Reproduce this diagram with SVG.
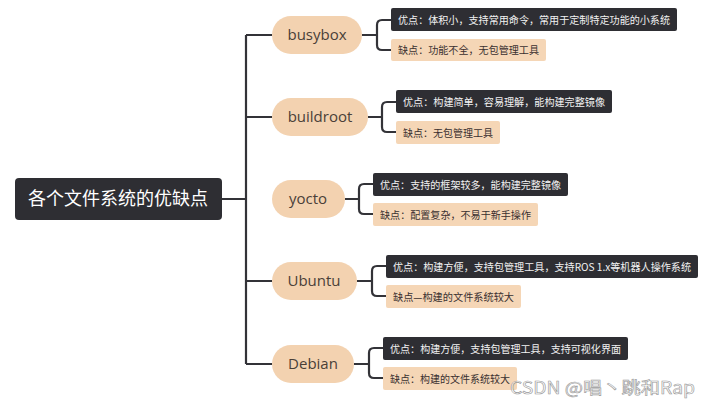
<svg xmlns="http://www.w3.org/2000/svg" width="711" height="407" viewBox="0 0 711 407">
<style>
.ln{fill:none;stroke:#333338;stroke-width:2.2}
.pill{fill:#f3d2b0}
.pt{font-family:"Open Sans","Noto Sans",sans-serif;font-size:15px;fill:#4a3f38;text-anchor:middle}
.dk{fill:#2e2e33}
.lt{fill:#f5d6b6}
.dt{font-family:"Noto Sans CJK SC",sans-serif;font-size:10.5px;fill:#f2f2f2}
.ltt{font-family:"Noto Sans CJK SC",sans-serif;font-size:10.5px;fill:#3a3030}
</style>
<rect width="711" height="407" fill="#fff"/>
<g id="connectors">
<path class="ln" d="M222 199H246M246 35V364 M246 35H272M246 117H272M246 281H272M246 364H272"/>
<path class="ln" d="M362 35H377M391 20H382Q377 20 377 25V45Q377 50 382 50H391"/>
<path class="ln" d="M368 117H382M396 102H387Q382 102 382 107V127Q382 132 387 132H396"/>
<path class="ln" d="M345 199H359M373 184H364Q359 184 359 189V209Q359 214 364 214H373"/>
<path class="ln" d="M357 281H372M386 266H377Q372 266 372 271V291Q372 296 377 296H386"/>
<path class="ln" d="M354 364H369M383 348H374Q369 348 369 353V373Q369 378 374 378H383"/>
</g>
<g id="root"><rect x="15" y="178" width="207" height="42" rx="4" fill="#2e2e33"/><text x="118" y="205" text-anchor="middle" font-family="Noto Sans CJK SC,sans-serif" font-size="18" fill="#fff">各个文件系统的优缺点</text></g>
<g id="busybox"><rect class="pill" x="272" y="16" width="90" height="38" rx="19"/><text class="pt" x="317" y="40">busybox</text>
<rect class="dk" x="391" y="8" width="286" height="23" rx="2"/><text class="dt" x="398" y="24" textLength="272" lengthAdjust="spacingAndGlyphs">优点：体积小，支持常用命令，常用于定制特定功能的小系统</text>
<rect class="lt" x="391" y="39" width="155" height="22" rx="2"/><text class="ltt" x="398" y="54" textLength="141" lengthAdjust="spacingAndGlyphs">缺点：功能不全，无包管理工具</text></g>
<g id="buildroot"><rect class="pill" x="272" y="98" width="96" height="38" rx="19"/><text class="pt" x="320" y="122">buildroot</text>
<rect class="dk" x="396" y="90" width="216" height="23" rx="2"/><text class="dt" x="403" y="106" textLength="202" lengthAdjust="spacingAndGlyphs">优点：构建简单，容易理解，能构建完整镜像</text>
<rect class="lt" x="396" y="121" width="104" height="23" rx="2"/><text class="ltt" x="403" y="137" textLength="90" lengthAdjust="spacingAndGlyphs">缺点：无包管理工具</text></g>
<g id="yocto"><rect class="pill" x="272" y="180" width="73" height="38" rx="19"/><text class="pt" x="308" y="204">yocto</text>
<rect class="dk" x="373" y="173" width="195" height="23" rx="2"/><text class="dt" x="380" y="189" textLength="181" lengthAdjust="spacingAndGlyphs">优点：支持的框架较多，能构建完整镜像</text>
<rect class="lt" x="373" y="203" width="165" height="23" rx="2"/><text class="ltt" x="380" y="219" textLength="151" lengthAdjust="spacingAndGlyphs">缺点：配置复杂，不易于新手操作</text></g>
<g id="ubuntu"><rect class="pill" x="272" y="262" width="85" height="38" rx="19"/><text class="pt" x="314" y="286">Ubuntu</text>
<rect class="dk" x="386" y="255" width="312" height="23" rx="2"/><text class="dt" x="393" y="271" textLength="298" lengthAdjust="spacingAndGlyphs">优点：构建方便，支持包管理工具，支持ROS 1.x等机器人操作系统</text>
<rect class="lt" x="386" y="285" width="135" height="23" rx="2"/><text class="ltt" x="393" y="301" textLength="121" lengthAdjust="spacingAndGlyphs">缺点—构建的文件系统较大</text></g>
<g id="debian"><rect class="pill" x="272" y="345" width="82" height="38" rx="19"/><text class="pt" x="313" y="369">Debian</text>
<rect class="dk" x="383" y="337" width="245" height="23" rx="2"/><text class="dt" x="390" y="353" textLength="231" lengthAdjust="spacingAndGlyphs">优点：构建方便，支持包管理工具，支持可视化界面</text>
<rect class="lt" x="383" y="367" width="134" height="23" rx="2"/><text class="ltt" x="390" y="383" textLength="120" lengthAdjust="spacingAndGlyphs">缺点：构建的文件系统较大</text></g>
<text x="510" y="394" font-family="Noto Sans CJK SC,sans-serif" font-size="17" fill="#fff" fill-opacity="0.6" stroke="#9a9a9a" stroke-width="0.6" textLength="185" lengthAdjust="spacingAndGlyphs">CSDN @唱丶跳和Rap</text>
</svg>
